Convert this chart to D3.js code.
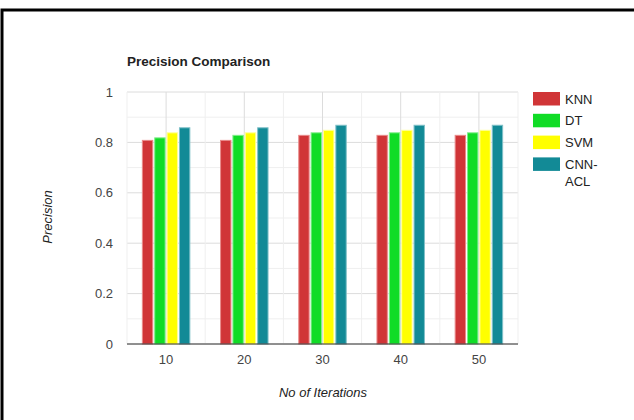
<!DOCTYPE html>
<html>
<head>
<meta charset="utf-8">
<script src="https://cdn.jsdelivr.net/npm/d3@7.9.0/dist/d3.min.js"></script>
<style>
  body { margin: 0; background: #fff; }
  svg { display: block; font-family: "Liberation Sans", Arial, sans-serif; }
</style>
</head>
<body>
<svg width="634" height="420"></svg>
<script>
// chart data
const iterations = ['10', '20', '30', '40', '50'];
const seriesNames = ['KNN', 'DT', 'SVM', 'CNN-ACL'];
const knn = [0.81, 0.81, 0.83, 0.83, 0.83];
const dt = [0.82, 0.83, 0.84, 0.84, 0.84];
const svm = [0.84, 0.84, 0.85, 0.85, 0.85];
const cnnAcl = [0.86, 0.86, 0.87, 0.87, 0.87];
const yTicks = [0, 0.2, 0.4, 0.6, 0.8, 1];

const colors = ['#d03537', '#10dc26', '#ffff00', '#128a96'];
const strokes = ['#e98a8a', '#7fee8a', '#ffff99', '#7fc0c8'];
const values = [knn, dt, svm, cnnAcl];

const svg = d3.select('svg');

// frame (top + left edges visible in the screenshot)
svg.append('rect').attr('x', 2).attr('y', 10).attr('width', 640).attr('height', 420)
  .attr('fill', 'none').attr('stroke', '#000').attr('stroke-width', 3);

const plotLeft = 127, plotRight = 518, plotTop = 92, plotBottom = 344;

const x = d3.scaleBand().domain(iterations).range([plotLeft, plotRight])
  .paddingInner(0.38).paddingOuter(0.19);
const xs = d3.scaleBand().domain(seriesNames).range([0, x.bandwidth()]).paddingInner(0.08);
const y = d3.scaleLinear().domain([0, 1]).range([plotBottom, plotTop]);

// horizontal gridlines every 0.1
const grid = svg.append('g');
d3.range(0, 11).forEach(i => {
  const v = i / 10;
  grid.append('line')
    .attr('x1', plotLeft).attr('x2', plotRight)
    .attr('y1', y(v)).attr('y2', y(v))
    .attr('stroke', i % 2 === 0 ? '#dcdcdc' : '#efefef').attr('stroke-width', 1);
});
// vertical gridlines: category centers (major) and boundaries (minor)
const step = x.step();
d3.range(0, iterations.length + 1).forEach(i => {
  const bx = plotLeft + i * step;
  grid.append('line').attr('x1', bx).attr('x2', bx).attr('y1', plotTop).attr('y2', plotBottom)
    .attr('stroke', '#efefef');
});
iterations.forEach(c => {
  const cx = x(c) + x.bandwidth() / 2;
  grid.append('line').attr('x1', cx).attr('x2', cx).attr('y1', plotTop).attr('y2', plotBottom)
    .attr('stroke', '#dcdcdc');
});

// bars
const bars = svg.append('g');
values.forEach((arr, s) => {
  arr.forEach((v, i) => {
    bars.append('rect')
      .attr('x', x(iterations[i]) + xs(seriesNames[s]) + 0.5)
      .attr('y', y(v) + 0.5)
      .attr('width', xs.bandwidth() - 1)
      .attr('height', y(0) - y(v) - 0.5)
      .attr('fill', colors[s])
      .attr('stroke', strokes[s]).attr('stroke-width', 1);
  });
});

// baseline
svg.append('line').attr('x1', plotLeft).attr('x2', plotRight)
  .attr('y1', y(0)).attr('y2', y(0)).attr('stroke', '#333').attr('stroke-width', 1.2);

// y tick labels
svg.append('g').selectAll('text').data(yTicks).join('text')
  .attr('x', 113).attr('y', d => y(d) + 4.5)
  .attr('text-anchor', 'end').attr('font-size', 13).attr('fill', '#444')
  .text(d => d === 0 || d === 1 ? d : d.toFixed(1));

// x tick labels
svg.append('g').selectAll('text').data(iterations).join('text')
  .attr('x', d => x(d) + x.bandwidth() / 2).attr('y', 364)
  .attr('text-anchor', 'middle').attr('font-size', 13).attr('fill', '#444')
  .text(d => d);

// titles
svg.append('text').attr('x', 127).attr('y', 66)
  .attr('font-size', 13.5).attr('font-weight', 'bold').attr('fill', '#222')
  .text('Precision Comparison');
svg.append('text').attr('x', 323).attr('y', 397)
  .attr('text-anchor', 'middle').attr('font-size', 13).attr('font-style', 'italic')
  .attr('fill', '#222').text('No of Iterations');
svg.append('text').attr('transform', 'translate(52,217) rotate(-90)')
  .attr('text-anchor', 'middle').attr('font-size', 13).attr('font-style', 'italic')
  .attr('fill', '#222').text('Precision');

// legend
const legend = svg.append('g');
seriesNames.forEach((name, i) => {
  const ly = 92 + i * 21.8;
  legend.append('rect').attr('x', 533).attr('y', ly).attr('width', 27).attr('height', 13.5)
    .attr('fill', colors[i]);
  const t = legend.append('text').attr('x', 565).attr('y', ly + 11.5)
    .attr('font-size', 13).attr('fill', '#222');
  if (name === 'CNN-ACL') {
    t.append('tspan').attr('x', 565).text('CNN-');
    t.append('tspan').attr('x', 565).attr('dy', 17).text('ACL');
  } else {
    t.text(name);
  }
});
</script>
</body>
</html>
